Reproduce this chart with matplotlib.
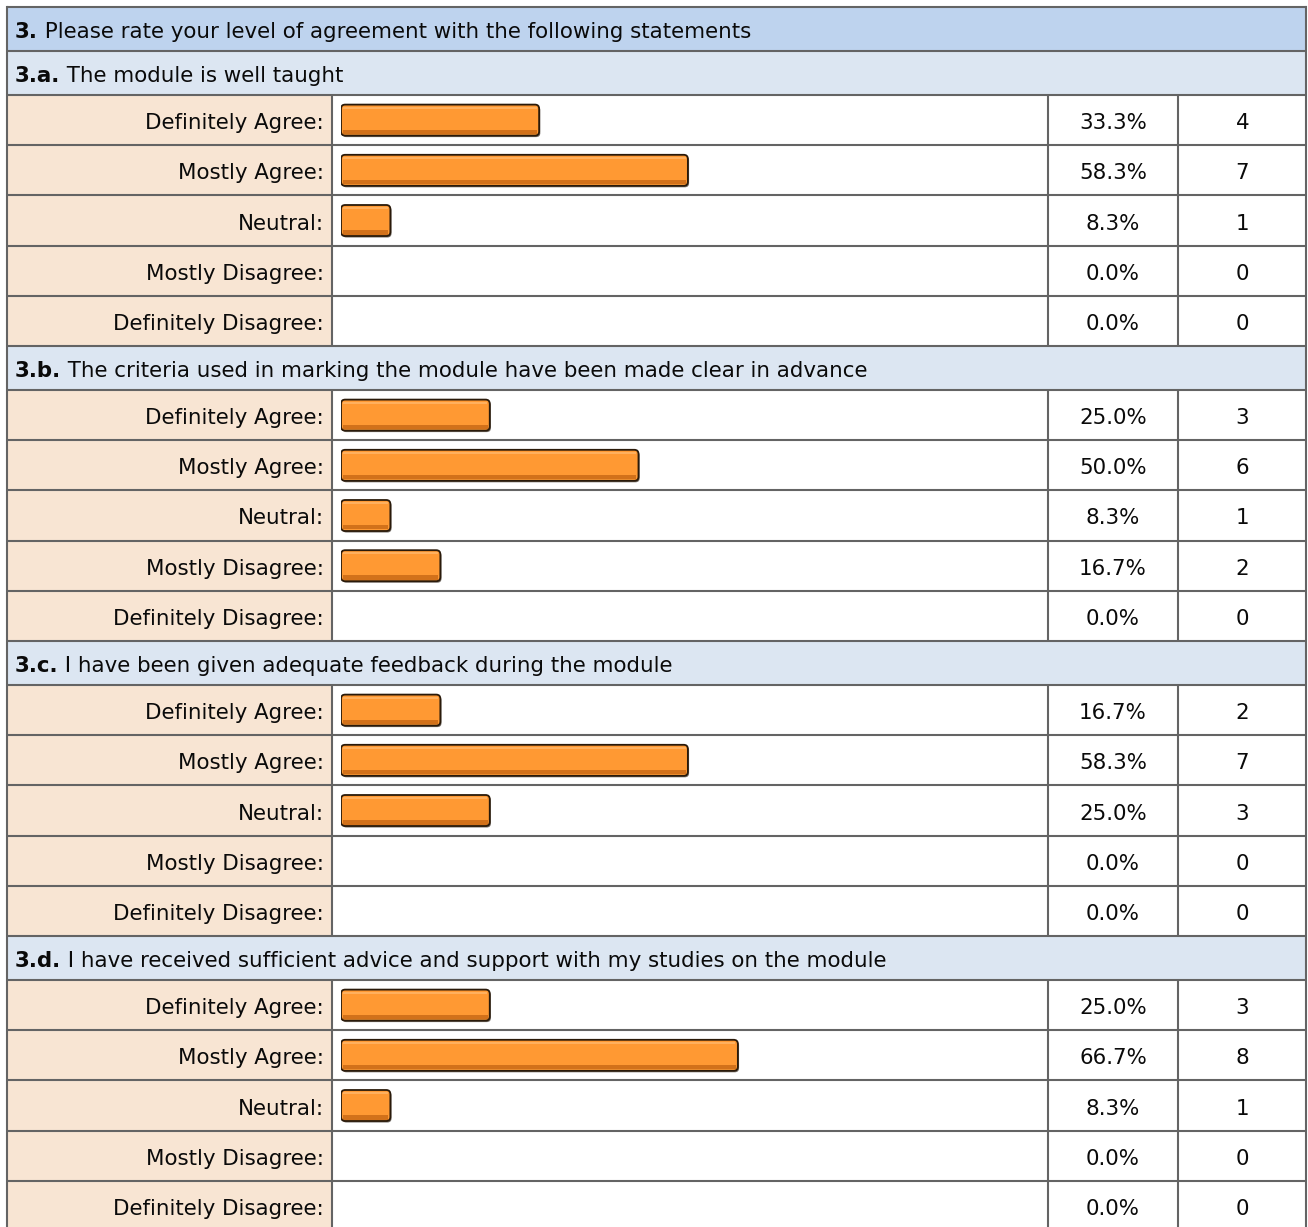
import matplotlib
matplotlib.use('Agg')
import matplotlib.pyplot as plt
from matplotlib.patches import Rectangle, FancyBboxPatch

# ---------------- data ----------------
main_num = '3.'
main_title = ' Please rate your level of agreement with the following statements'
section_ids = ['3.a.', '3.b.', '3.c.', '3.d.']
section_titles = [
    ' The module is well taught',
    ' The criteria used in marking the module have been made clear in advance',
    ' I have been given adequate feedback during the module',
    ' I have received sufficient advice and support with my studies on the module',
]
categories = ['Definitely Agree', 'Mostly Agree', 'Neutral', 'Mostly Disagree', 'Definitely Disagree']
pct_a = [33.3, 58.3, 8.3, 0.0, 0.0]
pct_b = [25.0, 50.0, 8.3, 16.7, 0.0]
pct_c = [16.7, 58.3, 25.0, 0.0, 0.0]
pct_d = [25.0, 66.7, 8.3, 0.0, 0.0]
cnt_a = [4, 7, 1, 0, 0]
cnt_b = [3, 6, 1, 2, 0]
cnt_c = [2, 7, 3, 0, 0]
cnt_d = [3, 8, 1, 0, 0]
percents = [pct_a, pct_b, pct_c, pct_d]
counts = [cnt_a, cnt_b, cnt_c, cnt_d]

# ---------------- layout ----------------
W, H = 1308, 1227
LEFT, RIGHT = 7, 1307
C1, C2, C3 = 332, 1048, 1178
TOP, HH, RH = 7, 44, 50.2
BAR_X0 = 341
PX_PER_PCT = 5.95
BAR_H = 31

HEAD_BG = '#BED3EE'
SUB_BG = '#DCE6F2'
LABEL_BG = '#F8E5D3'
LINE = '#646464'
TXT = '#0a0a0a'
FS = 15.4
DY = 3

fig = plt.figure(figsize=(W / 100, H / 100), dpi=100)
fig.patch.set_facecolor('white')
ax = fig.add_axes([0, 0, 1, 1])
ax.set_xlim(0, W)
ax.set_ylim(H, 0)
ax.axis('off')

# bar axes: x in percent, y in pixels
bx0 = BAR_X0 / W
bw = (C2 - BAR_X0) / W
axb = fig.add_axes([bx0, 0, bw, 1])
axb.set_xlim(0, (C2 - BAR_X0) / PX_PER_PCT)
axb.set_ylim(H, 0)
axb.axis('off')
axb.patch.set_alpha(0)

def two_part(x, ymid, bold, normal):
    t = ax.text(x, ymid, bold, fontsize=FS, fontweight='bold', color=TXT,
                va='center', ha='left')
    ax.annotate(normal, xy=(1, 0), xycoords=t, va='bottom', ha='left',
                fontsize=FS, color=TXT)

hlines = []
vseg = []
y = TOP
ax.add_patch(Rectangle((LEFT, y), RIGHT - LEFT, HH, fc=HEAD_BG, ec='none'))
two_part(15, y + HH / 2 + DY, main_num, main_title)
hlines.append(y)
y += HH
for s in range(len(section_ids)):
    hlines.append(y)
    ax.add_patch(Rectangle((LEFT, y), RIGHT - LEFT, HH, fc=SUB_BG, ec='none'))
    two_part(15, y + HH / 2 + DY, section_ids[s], section_titles[s])
    y += HH
    for r, cat in enumerate(categories):
        hlines.append(y)
        ax.add_patch(Rectangle((LEFT, y), C1 - LEFT, RH, fc=LABEL_BG, ec='none'))
        yc = y + RH / 2
        ax.text(324, yc + DY, cat + ':', ha='right', va='center', fontsize=FS, color=TXT)
        p = percents[s][r]
        ax.text((C2 + C3) / 2, yc + DY, f'{p:.1f}%', ha='center', va='center',
                fontsize=FS, color=TXT)
        ax.text((C3 + RIGHT) / 2, yc + DY, f'{counts[s][r]}', ha='center', va='center',
                fontsize=FS, color=TXT)
        if p > 0:
            top = yc - BAR_H / 2
            # shadow
            axb.add_patch(FancyBboxPatch((0.2, top + 1.5), p, BAR_H,
                          boxstyle='round,pad=0,rounding_size=0.7', mutation_aspect=6,
                          fc='#1a1005', ec='none', alpha=0.6, zorder=1))
            # body
            axb.add_patch(FancyBboxPatch((0, top), p, BAR_H,
                          boxstyle='round,pad=0,rounding_size=0.7', mutation_aspect=6,
                          fc='#FF9933', ec='none', zorder=2))
            # darker lower band
            axb.add_patch(Rectangle((0.35, top + BAR_H - 6), p - 0.7, 4.5,
                          fc='#D2711A', ec='none', zorder=3))
            # light top highlight
            axb.add_patch(Rectangle((0.4, top + 2), p - 0.8, 2,
                          fc='#FFB05E', ec='none', zorder=3))
            # outline
            axb.add_patch(FancyBboxPatch((0, top), p, BAR_H,
                          boxstyle='round,pad=0,rounding_size=0.7', mutation_aspect=6,
                          fc='none', ec='#2a1a0a', lw=1.3, zorder=4))
        vseg.append((y, y + RH))
        y += RH
hlines.append(y)

for hy in hlines:
    ax.plot([LEFT, RIGHT], [hy, hy], color=LINE, lw=1.5, solid_capstyle='butt', zorder=5)
ax.plot([LEFT, LEFT], [TOP, H], color=LINE, lw=1.5, zorder=5)
ax.plot([RIGHT - 1, RIGHT - 1], [TOP, H], color=LINE, lw=1.5, zorder=5)
for (a, b) in vseg:
    for cx in (C1, C2, C3):
        ax.plot([cx, cx], [a, b], color=LINE, lw=1.5, solid_capstyle='butt', zorder=5)

fig.savefig('out.png', dpi=100)
